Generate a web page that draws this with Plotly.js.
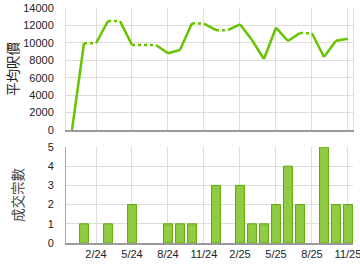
<!DOCTYPE html>
<html><head><meta charset="utf-8">
<script src="https://cdn.plot.ly/plotly-3.0.1.min.js"></script>
<style>html,body{margin:0;padding:0;background:#fff}#c{width:360px;height:270px}</style>
</head><body><div id="c"></div>
<script>
const months = ['12/23','1/24','2/24','3/24','4/24','5/24','6/24','7/24','8/24','9/24','10/24','11/24',
  '12/24','1/25','2/25','3/25','4/25','5/25','6/25','7/25','8/25','9/25','10/25','11/25'];
const avgPrice = [0,9950,9950,12500,12500,9750,9750,9750,8800,9180,12240,12200,
  11450,11450,12130,10330,8150,11740,10210,11130,11100,8380,10250,10480];
const deals = [0,1,0,1,0,2,0,0,1,1,1,0,3,0,3,1,1,2,4,2,0,5,2,2];
const tickMonths = ['2/24','5/24','8/24','11/24','2/25','5/25','8/25','11/25'];

const lineColor = '#66c400';
const traces = [];
for (let i = 0; i < months.length - 1; i++) {
  traces.push({
    x: [months[i], months[i+1]], y: [avgPrice[i], avgPrice[i+1]],
    type: 'scatter', mode: 'lines', xaxis: 'x', yaxis: 'y',
    line: {color: lineColor, width: 2.5, dash: deals[i+1] > 0 ? 'solid' : 'dot'},
    hoverinfo: 'skip', showlegend: false
  });
}
traces.push({
  x: months, y: deals.map(v => v > 0 ? v : null), type: 'bar', xaxis: 'x2', yaxis: 'y2', width: 0.74,
  marker: {color: '#8fcc44', line: {color: '#5daa00', width: 1}}, showlegend: false
});

const gridC = '#dddddd';
const tickFont = {family: 'Liberation Sans, Arial, sans-serif', size: 11, color: '#222'};
const xcommon = {
  type: 'category', categoryorder: 'array', categoryarray: months,
  range: [-0.5, 23.42], tickmode: 'array', tickvals: tickMonths, ticktext: tickMonths,
  showgrid: true, gridcolor: gridC, gridwidth: 1, zeroline: false,
  showline: true, linecolor: '#999', linewidth: 2, tickfont: tickFont,
  ticks: '', fixedrange: true
};
const layout = {
  width: 360, height: 270,
  margin: {l: 66, r: 7, t: 8, b: 27},
  paper_bgcolor: '#fff', plot_bgcolor: '#fff',
  bargap: 0.25,
  xaxis: Object.assign({}, xcommon, {anchor: 'y', showticklabels: false}),
  xaxis2: Object.assign({}, xcommon, {anchor: 'y2', showticklabels: true}),
  yaxis: {
    domain: [0.481, 1], range: [0, 14000], dtick: 2000, tick0: 0,
    tickformat: 'd', exponentformat: 'none',
    showgrid: true, gridcolor: gridC, zeroline: false,
    showline: true, linecolor: gridC, linewidth: 1, mirror: true,
    ticks: 'outside', ticklen: 9, tickcolor: 'rgba(0,0,0,0)',
    tickfont: tickFont,
    title: {text: '平均呎價', standoff: 1, font: {family: 'Noto Sans CJK TC', size: 13.5, color: '#222'}}
  },
  yaxis2: {
    domain: [0, 0.4085], range: [0, 5], dtick: 1, tick0: 0,
    showgrid: true, gridcolor: gridC, zeroline: false,
    showline: true, linecolor: '#aaa', linewidth: 1,
    ticks: 'outside', ticklen: 9, tickcolor: 'rgba(0,0,0,0)',
    tickfont: tickFont,
    title: {text: '成交宗數', standoff: 20, font: {family: 'Noto Sans CJK TC', size: 13.5, color: '#444'}}
  }
};
Plotly.newPlot('c', traces, layout, {displayModeBar: false, staticPlot: true});
</script></body></html>
